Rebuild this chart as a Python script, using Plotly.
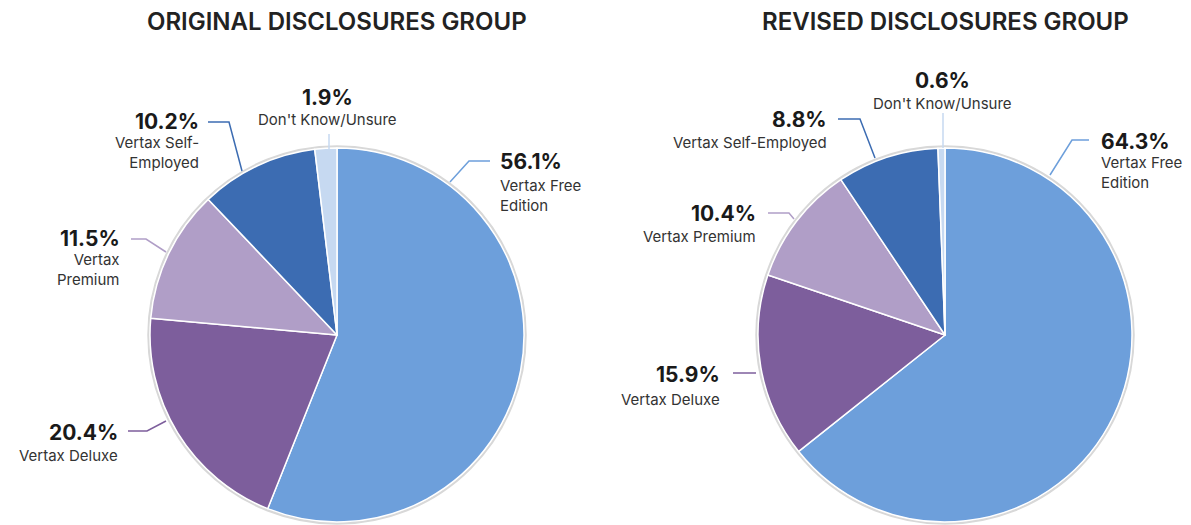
import plotly.graph_objects as go

W, H = 1191, 525

categories = ["Vertax Free Edition", "Vertax Deluxe", "Vertax Premium",
              "Vertax Self-Employed", "Don't Know/Unsure"]
original_values = [56.1, 20.4, 11.5, 10.2, 1.9]
revised_values = [64.3, 15.9, 10.4, 8.8, 0.6]
colors = ["#6d9fdb", "#7d5e9c", "#b09ec7", "#3c6cb2", "#c6d9f1"]
titles = ["ORIGINAL DISCLOSURES GROUP", "REVISED DISCLOSURES GROUP"]

FONT = "Inter"
TXT = "#222222"


def px(x):
    return x / W


def py(y):
    return 1 - y / H


R = 187
centers = [(337, 335), (945, 335)]

fig = go.Figure()

for (cx, cy), vals in zip(centers, [original_values, revised_values]):
    fig.add_trace(go.Pie(
        labels=categories, values=vals, sort=False, direction="clockwise",
        rotation=0, textinfo="none", hoverinfo="label+value",
        marker=dict(colors=colors, line=dict(color="white", width=1.5)),
        domain=dict(x=[px(cx - R), px(cx + R)], y=[py(cy + R), py(cy - R)]),
        showlegend=False,
    ))

shapes = []
annotations = []

# outer grey ring
for cx, cy in centers:
    r2 = R + 1.5
    shapes.append(dict(type="circle", xref="paper", yref="paper",
                       x0=px(cx - r2), x1=px(cx + r2), y0=py(cy + r2), y1=py(cy - r2),
                       line=dict(color="#d8d8d8", width=2.5), fillcolor="white",
                       layer="below"))

# titles
for (cx, cy), t in zip(centers, titles):
    annotations.append(dict(text=t, x=px(cx), y=py(22), xref="paper", yref="paper",
                            xanchor="center", yanchor="middle", showarrow=False,
                            font=dict(family=FONT, size=24, color=TXT, weight=600)))

# labels: (value text, name text, x, y_value, y_name, anchor, color index)
labels = [
    # original
    (f"{original_values[0]}%", "Vertax Free<br>Edition", 498, 161, 195, "left", 0),
    (f"{original_values[1]}%", "Vertax Deluxe", 120, 432, 455, "right", 1),
    (f"{original_values[2]}%", "Vertax<br>Premium", 122, 238, 269, "right", 2),
    (f"{original_values[3]}%", "Vertax Self-<br>Employed", 201, 121, 153, "right", 3),
    (f"{original_values[4]}%", "Don't Know/Unsure", 327, 97, 120, "center", 4),
    # revised
    (f"{revised_values[0]}%", "Vertax Free<br>Edition", 1099, 141, 172, "left", 0),
    (f"{revised_values[1]}%", "Vertax Deluxe", 722, 374, 399, "right", 1),
    (f"{revised_values[2]}%", "Vertax Premium", 758, 213, 237, "right", 2),
    (f"{revised_values[3]}%", "Vertax Self-Employed", 829, 120, 142, "right", 3),
    (f"{revised_values[4]}%", "Don't Know/Unsure", 942, 81, 103, "center", 4),
]
for val, name, x, yv, yn, anc, ci in labels:
    annotations.append(dict(text=val, x=px(x), y=py(yv), xref="paper", yref="paper",
                            xanchor=anc, yanchor="middle", showarrow=False, align=anc,
                            font=dict(family=FONT, size=21, color="#1a1a1a", weight="bold")))
    annotations.append(dict(text=name, x=px(x), y=py(yn), xref="paper", yref="paper",
                            xanchor=anc, yanchor="middle", showarrow=False, align=anc,
                            font=dict(family=FONT, size=15, color="#333333")))

# leader lines (pixel polylines), colour index
leaders = [
    ([(490, 161), (469, 161), (450, 182)], 0),
    ([(128, 431), (147, 431), (166, 421)], 1),
    ([(131, 239), (146, 239), (166, 252)], 2),
    ([(208, 122), (229, 122), (242, 171)], 3),
    ([(329, 134), (329, 150)], 4),
    ([(1089, 140), (1072, 140), (1050, 175)], 0),
    ([(733, 373), (756, 373)], 1),
    ([(768, 213), (789, 213), (794, 219)], 2),
    ([(838, 119), (860, 119), (875, 158)], 3),
    ([(943, 113), (943, 148)], 4),
]
for pts, ci in leaders:
    path = "M " + " L ".join(f"{px(x):.5f},{py(y):.5f}" for x, y in pts)
    shapes.append(dict(type="path", xref="paper", yref="paper", path=path,
                       line=dict(color=colors[ci], width=1.5), layer="above"))

fig.update_layout(
    width=W, height=H, margin=dict(l=0, r=0, t=0, b=0),
    paper_bgcolor="white", plot_bgcolor="white",
    shapes=shapes, annotations=annotations,
    font=dict(family=FONT),
)

fig.write_html("out.html", config={"displayModeBar": False},
               post_script="document.body.style.margin='0';")
